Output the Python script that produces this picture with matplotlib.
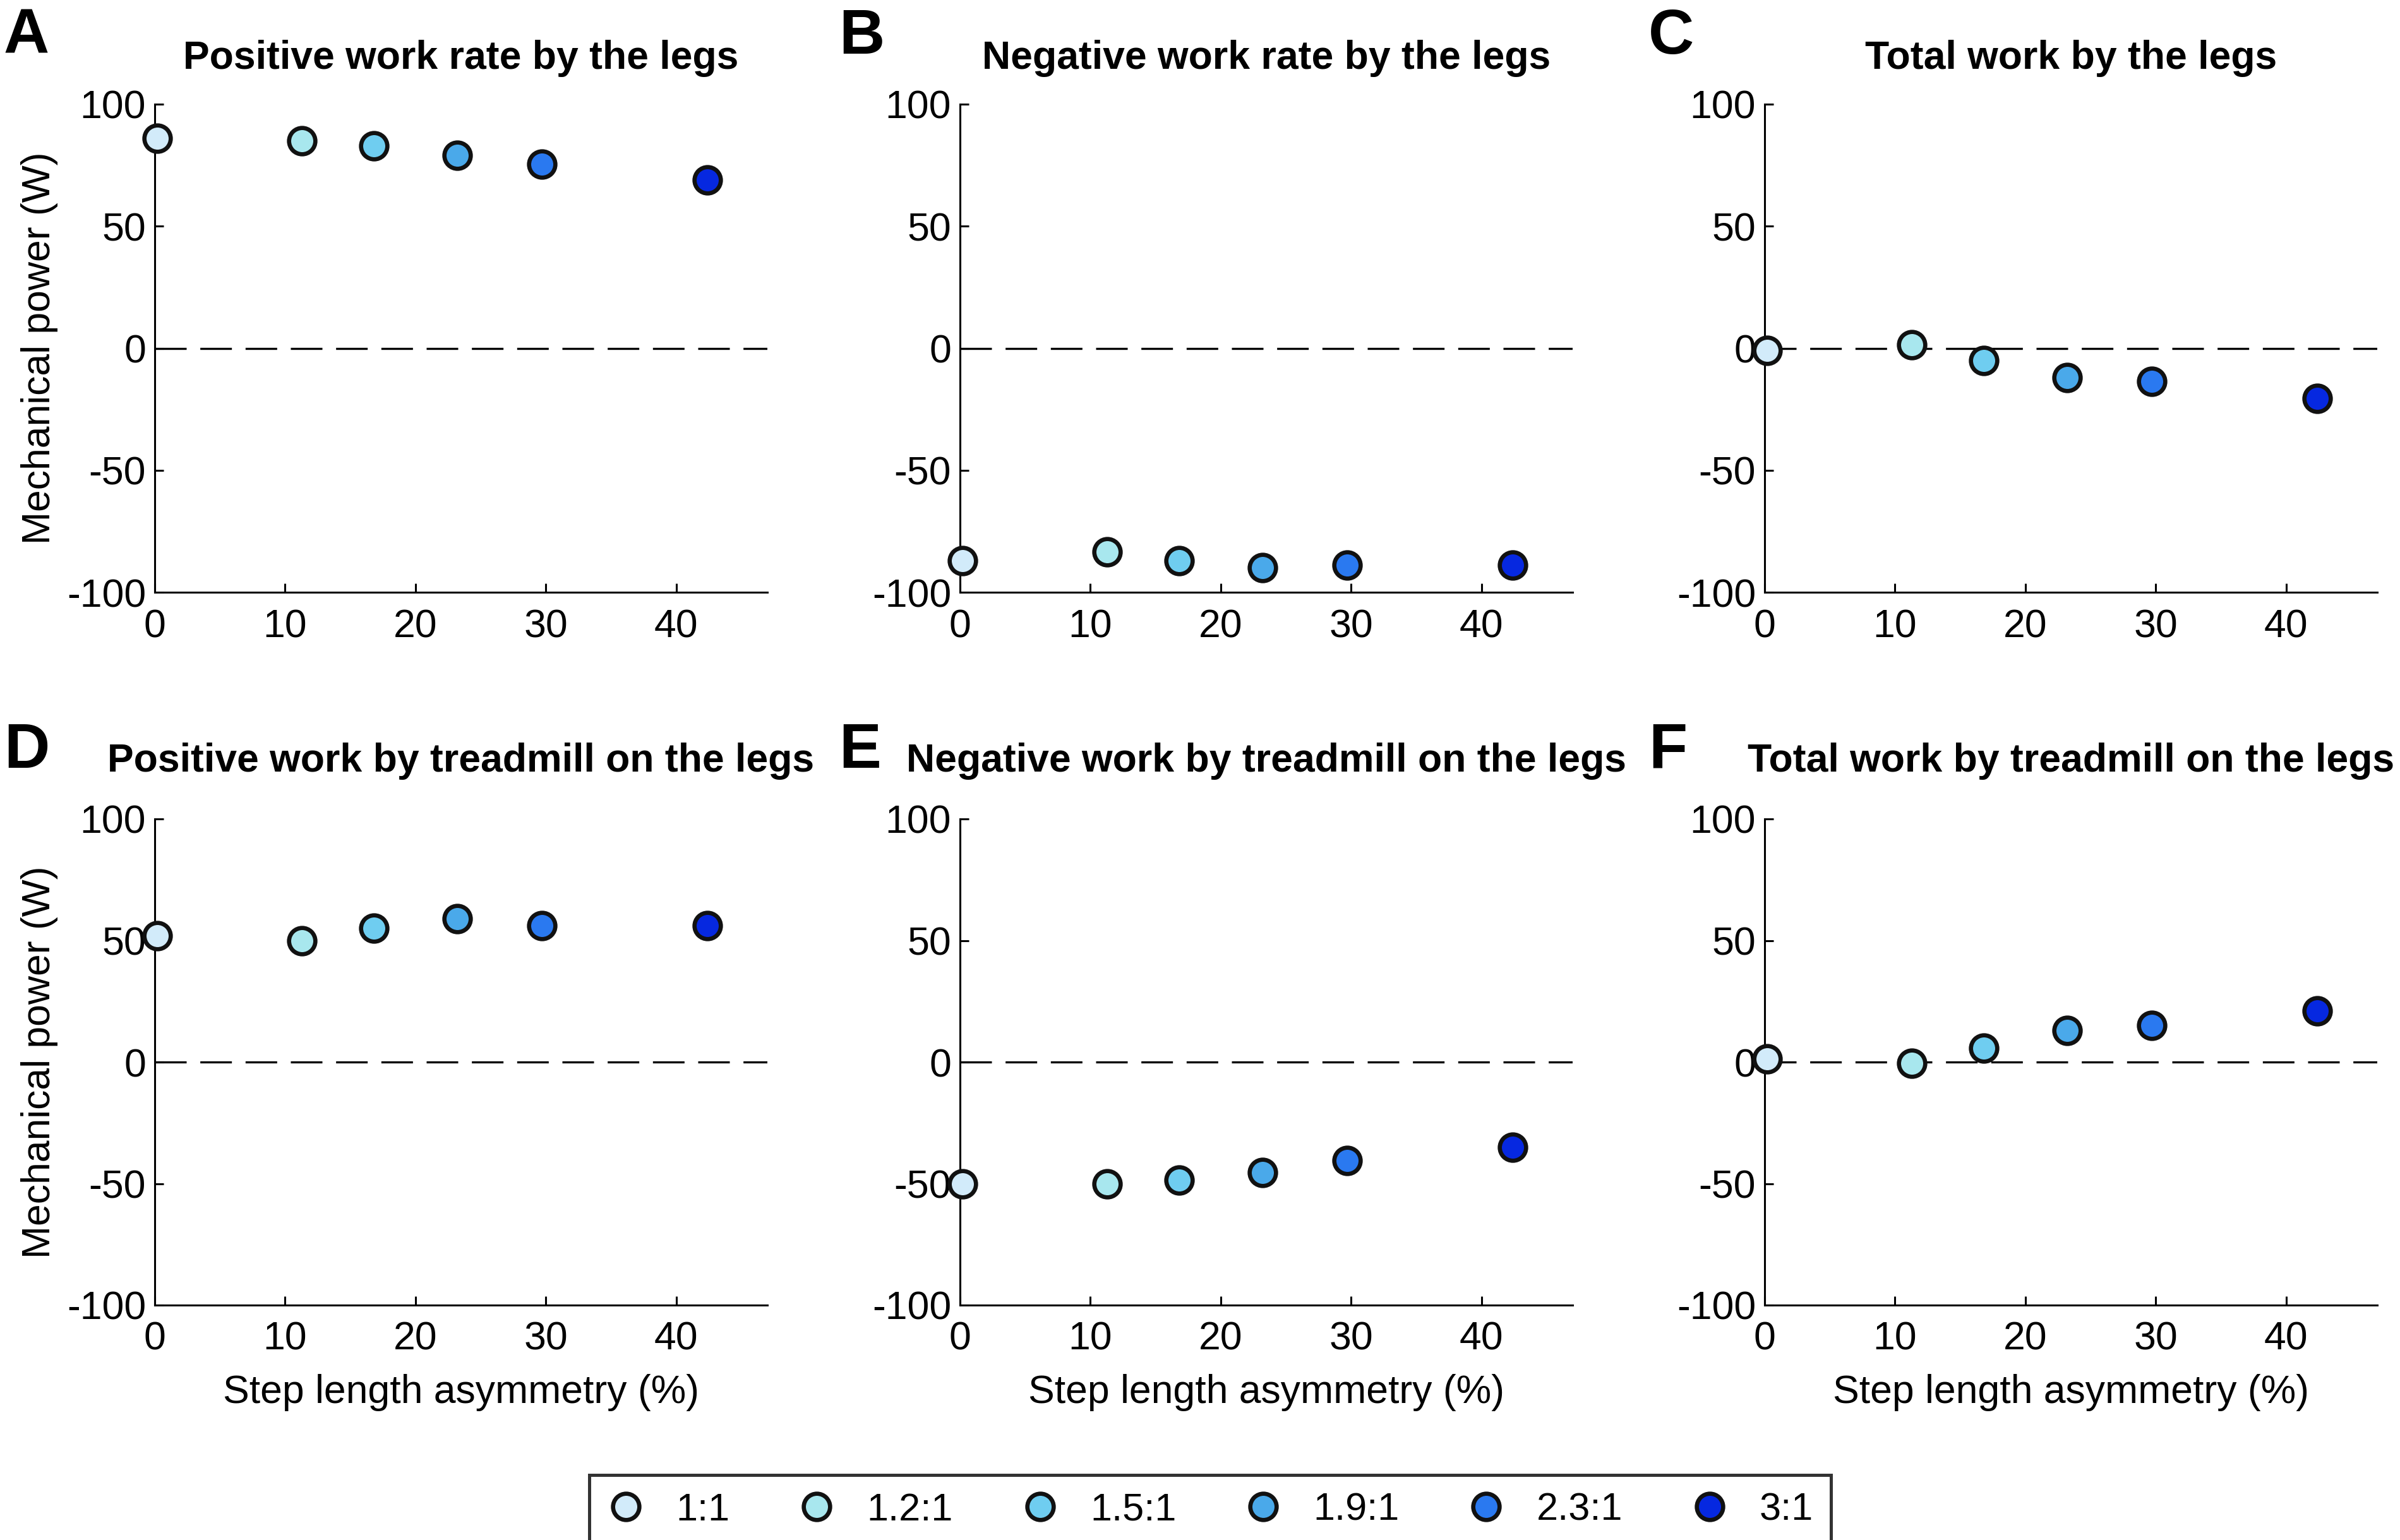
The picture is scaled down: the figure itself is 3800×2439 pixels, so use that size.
import matplotlib
matplotlib.use("Agg")
import matplotlib.pyplot as plt
from matplotlib.lines import Line2D

plt.rcParams["font.family"] = ["Liberation Sans", "DejaVu Sans"]
plt.rcParams["axes.unicode_minus"] = False

# speed ratio conditions
conditions = ["1:1", "1.2:1", "1.5:1", "1.9:1", "2.3:1", "3:1"]
colors = ["#d2ebfa", "#a8e7ee", "#6fcdf0", "#4aa9ea", "#2a79f0", "#0628e0"]
asymmetry = [0.2, 11.3, 16.8, 23.2, 29.7, 42.4]

pos_legs = [86, 85, 83, 79, 75.5, 69]
neg_legs = [-87, -83.5, -87, -90, -89, -89]
tot_legs = [-1, 1.5, -5, -12, -13.5, -20.5]
pos_tread = [52, 50, 55, 59, 56, 56]
neg_tread = [-50, -50, -48.5, -45.5, -40.5, -35]
tot_tread = [1.3, -0.6, 5.7, 13, 15, 21]

titles = [
    "Positive work rate by the legs",
    "Negative work rate by the legs",
    "Total work by the legs",
    "Positive work by treadmill on the legs",
    "Negative work by treadmill on the legs",
    "Total work by treadmill on the legs",
]
letters = ["A", "B", "C", "D", "E", "F"]
series = [pos_legs, neg_legs, tot_legs, pos_tread, neg_tread, tot_tread]

W, H = 3800, 2439
fig = plt.figure(figsize=(W / 200, H / 200), dpi=200)

lefts = [245, 1520, 2794]
rows = [(165, 938), (1297, 2067)]
title_pads = [20, 27]
letter_pos = [(6, 12), (1328, 12), (2610, 12), (6, 1143), (1328, 1143), (2610, 1143)]

for i, vals in enumerate(series):
    r, c = divmod(i, 3)
    top, bot = rows[r]
    ax = fig.add_axes([lefts[c] / W, 1 - bot / H, 970 / W, (bot - top) / H])
    ax.axhline(0, color="black", lw=1.2, dashes=(15, 6.5), zorder=1)
    for x, y, col in zip(asymmetry, vals, colors):
        ax.plot(x, y, "o", ms=15, mfc=col, mec="#111111", mew=2.4, zorder=3, clip_on=False)
    ax.set_xlim(0, 47)
    ax.set_ylim(-100, 100)
    ax.set_xticks([0, 10, 20, 30, 40])
    ax.set_yticks([-100, -50, 0, 50, 100])
    for s in ["top", "right"]:
        ax.spines[s].set_visible(False)
    for s in ["left", "bottom"]:
        ax.spines[s].set_linewidth(1.1)
    ax.tick_params(direction="in", length=5, width=1.1, labelsize=22.5)
    ax.tick_params(axis="x", pad=9)
    ax.tick_params(axis="y", pad=5)
    ax.set_title(titles[i], fontsize=22.5, fontweight="bold", pad=title_pads[r])
    if c == 0:
        ax.set_ylabel("Mechanical power (W)", fontsize=22.5, labelpad=5)
    if r == 1:
        ax.set_xlabel("Step length asymmetry (%)", fontsize=22.5, labelpad=9)
    lx, ly = letter_pos[i]
    fig.text(lx / W, 1 - ly / H, letters[i], fontsize=36, fontweight="bold", va="top", ha="left")

handles = [
    Line2D([], [], marker="o", ls="none", ms=15, mfc=col, mec="#111111", mew=2.4)
    for col in colors
]
leg = fig.legend(handles, conditions, loc="center", bbox_to_anchor=(1916 / W, 1 - 2392 / H),
                 ncol=6, fontsize=22, frameon=True, fancybox=False, columnspacing=1.75,
                 handlelength=1.0, handletextpad=0.8, borderpad=0.45, borderaxespad=0)
leg.get_frame().set_edgecolor("black")
leg.get_frame().set_linewidth(1.8)

fig.savefig("out.png", dpi=200)
